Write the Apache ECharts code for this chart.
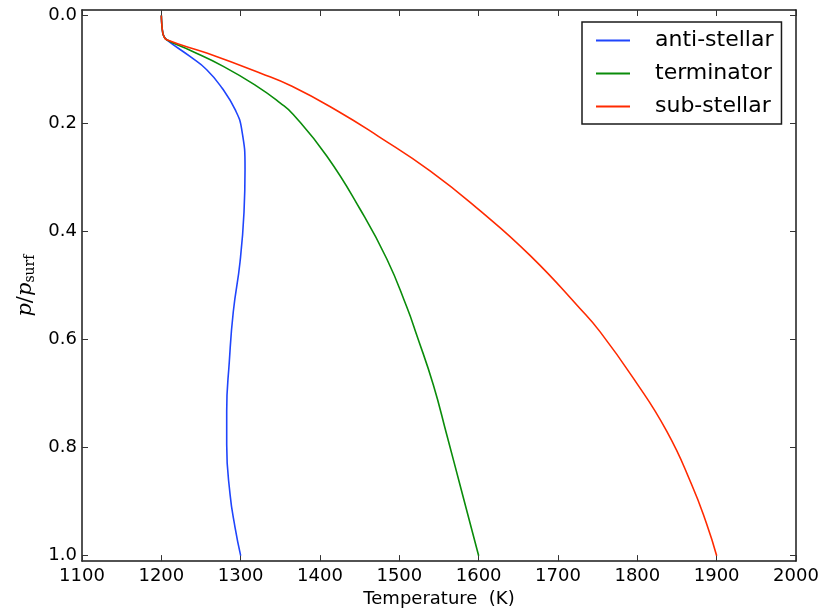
<!DOCTYPE html>
<html>
<head>
<meta charset="utf-8">
<script src="https://cdn.jsdelivr.net/npm/echarts@6/dist/echarts.min.js"></script>
<style>
  html, body { margin: 0; padding: 0; background: #fff; }
  #main { width: 834px; height: 613px; }
</style>
</head>
<body>
<div id="main"></div>
<script>
// temperature (K) vs normalised pressure p/p_surf
var seriesNames = ['anti-stellar', 'terminator', 'sub-stellar'];
var seriesColors = ['#1f45fc', '#0a8c0a', '#ff2a00'];

var presAnti = [0, 0.01, 0.02, 0.03, 0.038, 0.0452, 0.076, 0.1005, 0.1345, 0.1741, 0.211, 0.2846, 0.3643, 0.4564, 0.5485, 0.6405, 0.7326, 0.7941, 0.8861, 0.9474, 1.0];
var tempAnti = [1200, 1200.3, 1200.8, 1201.6, 1203, 1206.8, 1236.1, 1257.2, 1276.5, 1292.9, 1301.3, 1305.5, 1304.2, 1299.2, 1290.7, 1285.7, 1282.4, 1282.4, 1286.6, 1292.9, 1300];

var presTerm = [0, 0.01, 0.02, 0.03, 0.038, 0.0452, 0.0646, 0.0944, 0.1309, 0.1618, 0.1833, 0.2601, 0.3583, 0.4504, 0.5393, 0.5915, 0.6836, 0.7757, 0.8799, 1.0];
var tempTerm = [1200, 1200.3, 1200.8, 1201.6, 1203, 1206.8, 1236.1, 1278.1, 1320.2, 1349.6, 1366.3, 1408.5, 1450.4, 1484.1, 1509.3, 1521.9, 1542.8, 1559.7, 1578.4, 1600];

var presSub = [0, 0.01, 0.02, 0.03, 0.038, 0.0452, 0.0697, 0.1066, 0.1312, 0.1773, 0.2233, 0.2877, 0.3614, 0.4442, 0.5424, 0.5853, 0.6713, 0.7694, 0.8677, 0.9414, 1.0];
var tempSub = [1200, 1200.3, 1200.8, 1201.6, 1203, 1206.8, 1257.2, 1324.4, 1364.7, 1422.7, 1473.1, 1538.7, 1601.7, 1664.7, 1727.7, 1752.9, 1794.9, 1837.0, 1868.3, 1887.4, 1900];

var yTicks = [0, 0.2, 0.4, 0.6, 0.8, 1.0];

function pairs(t, p) {
  return t.map(function (v, i) { return [v, p[i]]; });
}

var chartDom = document.getElementById('main');
var myChart = echarts.init(chartDom, null, { renderer: 'canvas' });

var font = 'DejaVu Sans';
var frame = { show: true, onZero: false, lineStyle: { color: '#1a1a1a', width: 1.5 } };
var tick = { show: true, inside: true, length: 6, lineStyle: { color: '#333', width: 1 } };

var data = [pairs(tempAnti, presAnti), pairs(tempTerm, presTerm), pairs(tempSub, presSub)];

var option = {
  animation: false,
  backgroundColor: '#fff',
  grid: { left: 82, right: 38, top: 10, bottom: 49, containLabel: false },
  xAxis: [
    {
      type: 'value', position: 'bottom', min: 1100, max: 2000, interval: 100,
      name: 'Temperature  (K)', nameLocation: 'middle', nameGap: 26,
      nameTextStyle: { fontFamily: font, fontSize: 18, color: '#000' },
      axisLine: frame, axisTick: tick, splitLine: { show: false },
      axisLabel: {
        fontFamily: font, fontSize: 18, color: '#000', margin: 6,
        formatter: function (v) { return String(v); }
      }
    },
    {
      type: 'value', position: 'top', min: 1100, max: 2000, interval: 100,
      axisLine: frame, axisTick: tick, splitLine: { show: false },
      axisLabel: { show: false }
    }
  ],
  yAxis: [
    {
      type: 'value', position: 'left', inverse: true, min: -0.01, max: 1.01,
      name: '{i|p}{n|/}{i|p}{s|surf}', nameLocation: 'middle', nameGap: 42, nameRotate: 90,
      nameTextStyle: {
        color: '#000',
        rich: {
          i: { fontFamily: 'DejaVu Serif', fontStyle: 'italic', fontSize: 21, color: '#000' },
          n: { fontFamily: 'DejaVu Serif', fontSize: 21, color: '#000' },
          s: { fontFamily: 'DejaVu Serif', fontSize: 14, color: '#000', padding: [10, 0, 0, 0] }
        }
      },
      axisLine: frame,
      axisTick: Object.assign({ customValues: yTicks }, tick),
      splitLine: { show: false },
      axisLabel: {
        customValues: yTicks, fontFamily: font, fontSize: 18, color: '#000', margin: 5,
        formatter: function (v) { return v.toFixed(1); }
      }
    },
    {
      type: 'value', position: 'right', inverse: true, min: -0.01, max: 1.01,
      axisLine: frame,
      axisTick: Object.assign({ customValues: yTicks }, tick),
      splitLine: { show: false },
      axisLabel: { show: false }
    }
  ],
  legend: {
    orient: 'vertical', left: 582, top: 22,
    data: seriesNames.map(function (n) { return { name: n, icon: 'rect' }; }),
    backgroundColor: '#fff', borderColor: '#1a1a1a', borderWidth: 1.5, borderRadius: 0,
    padding: [6, 8, 5, 14],
    itemWidth: 34, itemHeight: 2, itemGap: 8,
    textStyle: { fontFamily: font, fontSize: 22, color: '#000', lineHeight: 25, padding: [0, 0, 0, 20] }
  },
  series: seriesNames.map(function (name, k) {
    return {
      name: name, type: 'line', xAxisIndex: 0, yAxisIndex: 0,
      data: data[k], symbol: 'none', smooth: 0.5, smoothConstraint: false,
      lineStyle: { color: seriesColors[k], width: 1.6 },
      itemStyle: { color: seriesColors[k] }
    };
  })
};

option && myChart.setOption(option);
</script>
</body>
</html>
